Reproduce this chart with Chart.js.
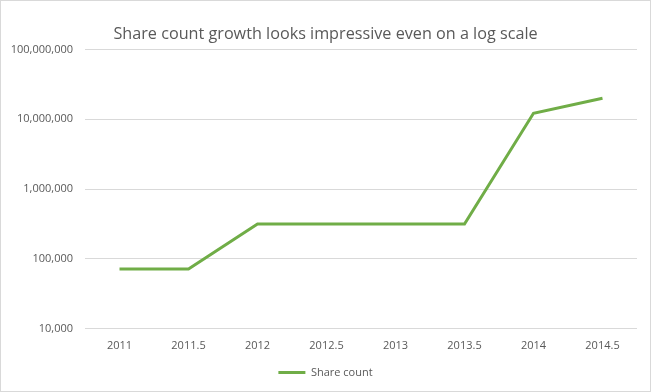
<!DOCTYPE html>
<html>
<head>
<meta charset="utf-8">
<script src="https://cdn.jsdelivr.net/npm/chart.js@4"></script>
<style>
html,body{margin:0;padding:0;background:#fff;}
#wrap{width:651px;height:392px;position:relative;}
</style>
</head>
<body>
<div id="wrap"><canvas id="c" width="651" height="392"></canvas></div>
<script>
const categories = ["2011","2011.5","2012","2012.5","2013","2013.5","2014","2014.5"];
const shareCount = [72000, 72000, 316000, 316000, 316000, 316000, 12200000, 20000000];
const yTicks = [10000, 100000, 1000000, 10000000, 100000000];
const titleText = "Share count growth looks impressive even on a log scale";
const seriesName = "Share count";

const FONT = "'Open Sans', 'Liberation Sans', sans-serif";
const GREEN = "#70AD47";
const TEXT = "#595959";

const borderPlugin = {
  id: 'frame',
  afterLayout(chart) {
    // centre title and legend on the full canvas width
    [chart.titleBlock, chart.legend].forEach(b => {
      if (b) { b.right = chart.width - b.left; }
    });
  },
  afterDraw(chart) {
    const ctx = chart.ctx;
    ctx.save();
    ctx.strokeStyle = '#D9D9D9';
    ctx.lineWidth = 1;
    ctx.strokeRect(0.5, 0.5, chart.width - 1, chart.height - 1);
    ctx.restore();
  }
};

new Chart(document.getElementById('c'), {
  type: 'line',
  data: {
    labels: categories,
    datasets: [{
      label: seriesName,
      data: shareCount,
      borderColor: GREEN,
      backgroundColor: GREEN,
      borderWidth: 3,
      pointRadius: 0,
      tension: 0,
      fill: false
    }]
  },
  plugins: [borderPlugin],
  options: {
    responsive: false,
    animation: false,
    layout: { padding: { top: 10, left: 0, right: 14, bottom: 4 } },
    plugins: {
      title: {
        display: true,
        text: titleText,
        color: TEXT,
        font: { family: FONT, size: 16.2, weight: 'normal' },
        padding: { top: 15, bottom: 5 }
      },
      legend: {
        position: 'bottom',
        labels: {
          color: TEXT,
          font: { family: FONT, size: 11 },
          boxWidth: 27,
          boxHeight: 3,
          padding: 5,
          generateLabels(chart) {
            return chart.data.datasets.map((ds, i) => ({
              text: ds.label,
              fillStyle: ds.borderColor,
              strokeStyle: ds.borderColor,
              lineWidth: 0,
              fontColor: TEXT,
              datasetIndex: i,
              hidden: false
            }));
          }
        }
      },
      tooltip: { enabled: false }
    },
    scales: {
      x: {
        type: 'category',
        offset: true,
        grid: { display: false, drawTicks: false },
        border: { display: false },
        ticks: { color: TEXT, font: { family: FONT, size: 11 }, padding: 10, maxRotation: 0 }
      },
      y: {
        type: 'logarithmic',
        min: 10000,
        max: 100000000,
        afterBuildTicks(scale) {
          scale.ticks = yTicks.map(v => ({ value: v }));
        },
        afterFit(scale) { scale.width = 85; },
        grid: { color: '#D9D9D9', drawTicks: false, lineWidth: 1 },
        border: { display: false },
        ticks: {
          color: TEXT,
          font: { family: FONT, size: 11 },
          padding: 12,
          callback(v) { return Number(v).toLocaleString('en-US'); }
        }
      }
    }
  }
});
</script>
</body>
</html>
